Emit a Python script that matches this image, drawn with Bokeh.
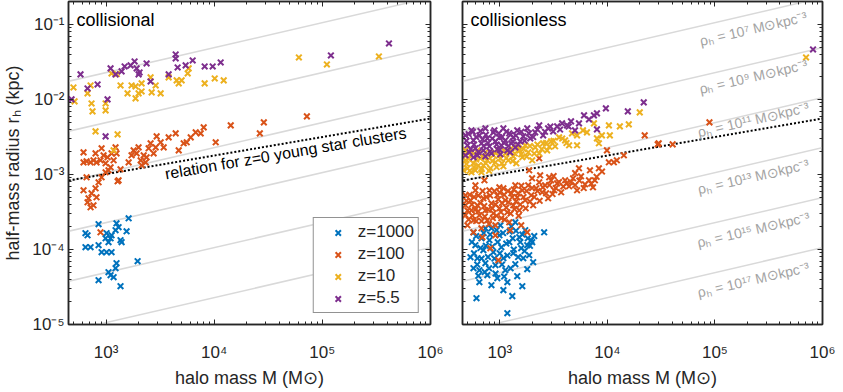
import math
from bokeh.plotting import figure
from bokeh.models import (LogAxis, FixedTicker, Legend, LegendItem, Range1d,
                          CustomJSTickFormatter)
from bokeh.layouts import row
from bokeh.core.properties import value
from bokeh.embed import file_html
from bokeh.resources import INLINE

FONT = "Liberation Sans"
INK = "#262626"

series_names = ["z=1000", "z=100", "z=10", "z=5.5"]
series_colors = ["#0072BD", "#D95319", "#EDB120", "#7E2F8E"]

# ---------------- data: (log10 M [Msun], log10 r_h [kpc]) ----------------
collisional_z1000 = [
    (2.81, -3.783), (2.829, -3.81), (2.931, -3.663), (2.81, -3.969), (2.857, -3.969),
    (2.931, -3.943), (2.959, -4.036), (3.005, -4.036), (3.051, -4.036), (3.005, -3.783),
    (3.042, -3.85), (3.051, -3.81), (3.088, -3.743), (3.097, -3.65), (3.116, -3.703),
    (3.134, -3.876), (3.144, -3.903), (3.19, -3.757), (3.209, -3.584), (3.097, -4.183),
    (3.088, -4.249), (3.023, -4.303), (3.042, -4.343), (3.07, -4.369), (2.931, -4.409),
    (3.134, -4.489), (3.292, -4.156), (2.996, -3.85), (3.023, -3.903)]
collisional_z100 = [
    (2.792, -2.838), (2.82, -2.824), (2.857, -2.838), (2.884, -2.811), (2.912, -2.838),
    (2.949, -2.811), (2.959, -2.651), (2.977, -2.744), (2.996, -2.851), (3.014, -2.771),
    (3.042, -2.904), (3.051, -2.718), (3.07, -2.811), (3.023, -2.944), (3.088, -2.638),
    (3.097, -2.718), (3.134, -2.931), (3.107, -3.091), (3.209, -2.838), (3.236, -2.744),
    (3.255, -2.678), (3.283, -2.718), (3.301, -2.638), (3.32, -2.811), (3.329, -2.877),
    (3.348, -2.744), (3.375, -2.771), (3.366, -2.838), (3.394, -2.651), (3.412, -2.584),
    (3.44, -2.718), (3.459, -2.638), (3.468, -2.491), (3.505, -2.571), (3.533, -2.638),
    (3.579, -2.505), (3.644, -2.451), (3.672, -2.678), (3.718, -2.584), (3.746, -2.571),
    (3.783, -2.505), (3.829, -2.438), (3.875, -2.451), (3.903, -2.371), (4.014, -2.571),
    (4.153, -2.345), (2.82, -3.037), (2.792, -3.211), (2.838, -3.317), (2.866, -3.251),
    (2.903, -3.184), (2.912, -3.304), (2.931, -3.104), (2.959, -3.037), (2.996, -2.971),
    (2.884, -3.41), (2.857, -3.437), (2.829, -3.37), (3.116, -3.077), (2.949, -3.77),
    (4.459, -2.305), (4.422, -2.451), (4.857, -2.225), (2.792, -2.705), (2.903, -2.718)]
collisional_z10 = [
    (2.699, -1.839), (2.709, -2.025), (2.829, -1.918), (2.857, -1.812), (2.866, -2.052),
    (2.875, -2.158), (2.996, -2.052), (2.996, -2.145), (3.051, -1.652), (3.134, -1.812),
    (3.199, -1.918), (3.236, -1.812), (3.273, -1.825), (3.301, -1.918), (3.329, -1.892),
    (3.329, -1.785), (3.273, -1.985), (3.412, -1.705), (3.422, -1.905), (3.459, -1.812),
    (3.505, -1.918), (3.579, -1.705), (3.653, -1.745), (3.672, -1.785), (3.699, -1.745),
    (3.755, -1.652), (3.764, -1.585), (3.912, -1.785), (4.005, -1.719), (4.088, -1.745),
    (2.903, -2.425), (3.107, -2.465), (3.07, -2.678), (4.783, -1.439), (5.042, -1.532),
    (5.523, -1.426), (3.10, -1.66)]
collisional_z5p5 = [
    (2.681, -1.998), (2.764, -1.665), (2.829, -1.852), (2.922, -1.799), (3.014, -1.998),
    (3.042, -1.585), (3.088, -1.665), (3.144, -1.625), (3.172, -1.559), (3.227, -1.545),
    (3.264, -1.492), (3.283, -1.585), (3.31, -1.639), (3.301, -1.665), (3.375, -1.519),
    (3.412, -1.759), (3.579, -1.665), (3.644, -1.399), (3.644, -1.452), (3.662, -1.572),
    (3.736, -1.545), (3.801, -1.479), (3.912, -1.559), (3.986, -1.559), (4.06, -1.506),
    (2.996, -2.491), (5.079, -1.412), (5.616, -1.252)]

collisionless_z1000 = [
    (2.755, -3.77), (2.773, -3.943), (2.792, -4.116), (2.81, -4.276), (2.829, -3.85),
    (2.847, -4.009), (2.866, -4.183), (2.884, -4.342), (2.903, -3.876), (2.922, -3.717),
    (2.94, -4.036), (2.959, -4.209), (2.977, -4.382), (2.996, -3.81), (3.014, -3.969),
    (3.033, -4.116), (3.051, -4.276), (3.07, -4.436), (3.088, -3.903), (3.107, -3.69),
    (3.125, -4.049), (3.144, -4.196), (3.162, -4.356), (3.181, -3.836), (3.199, -3.983),
    (3.218, -4.116), (3.236, -3.743), (3.255, -3.943), (3.273, -4.076), (3.292, -3.876),
    (3.31, -4.169), (2.81, -4.436), (2.922, -4.476), (3.033, -4.542), (3.412, -3.77),
    (2.783, -4.649), (3.07, -4.849), (3.116, -4.622), (3.209, -4.489), (3.301, -3.903),
    (3.255, -4.263), (3.005, -3.677), (3.144, -3.637), (2.866, -3.717), (2.727, -4.103),
    (2.755, -4.249),
    (2.74, -3.90), (2.76, -4.05), (2.78, -3.82), (2.79, -4.20), (2.80, -4.35),
    (2.82, -3.98), (2.83, -4.12), (2.85, -3.78), (2.86, -4.30), (2.87, -3.95),
    (2.89, -4.10), (2.90, -4.25), (2.91, -3.80), (2.93, -3.96), (2.95, -4.12),
    (2.96, -4.32), (2.97, -3.74), (2.98, -3.90), (3.00, -4.05), (3.02, -4.20),
    (3.03, -3.78), (3.04, -4.36), (3.06, -3.92), (3.07, -4.08), (3.09, -3.76),
    (3.10, -4.25), (3.12, -3.85), (3.13, -4.00), (3.15, -3.75), (3.17, -4.10),
    (3.19, -3.90), (3.21, -3.80), (3.23, -4.02), (3.26, -3.85), (3.28, -3.95),
    (3.32, -3.82)]
collisionless_z100 = [
    (2.681, -3.277), (2.681, -3.41), (2.681, -3.543), (2.699, -3.677), (2.727, -3.344),
    (2.736, -3.477), (2.755, -3.61), (2.773, -3.211), (2.792, -3.41), (2.81, -3.543),
    (2.829, -3.717), (2.847, -3.317), (2.866, -3.477), (2.884, -3.61), (2.903, -3.211),
    (2.922, -3.384), (2.94, -3.517), (2.959, -3.677), (2.977, -3.277), (2.996, -3.45),
    (3.014, -3.583), (3.033, -3.184), (3.051, -3.344), (3.07, -3.504), (3.088, -3.637),
    (3.107, -3.251), (3.125, -3.41), (3.144, -3.144), (3.162, -3.304), (3.181, -3.477),
    (3.209, -3.211), (3.236, -3.344), (3.264, -3.144), (3.292, -3.277), (3.31, -3.41),
    (3.338, -3.184), (3.366, -3.104), (3.394, -3.237), (3.421, -3.144), (3.449, -3.317),
    (3.477, -3.077), (3.505, -3.211), (3.533, -3.117), (3.57, -3.237), (3.607, -3.077),
    (3.644, -3.157), (3.681, -3.051), (3.718, -3.211), (3.755, -3.024), (3.792, -3.131),
    (3.829, -3.077), (3.866, -3.171), (3.366, -2.784), (3.273, -2.944), (3.736, -2.917),
    (3.838, -2.944), (3.921, -2.917), (4.014, -2.837), (4.06, -2.837), (4.088, -2.811),
    (4.153, -2.744), (3.996, -2.678), (4.347, -2.478), (4.477, -2.584), (3.884, -3.077),
    (3.375, -3.011), (3.459, -3.037), (2.857, -3.077), (2.773, -3.144), (2.996, -3.171),
    (4.949, -2.305), (4.468, -2.598), (4.607, -2.598), (3.255, -3.77), (2.912, -3.983),
    (2.986, -4.143), (2.838, -3.836), (2.755, -3.77), (2.959, -3.81), (3.097, -3.743),
    (3.199, -3.677),
    (2.69, -3.35), (2.70, -3.48), (2.71, -3.60), (2.72, -3.27), (2.74, -3.40),
    (2.745, -3.55), (2.76, -3.30), (2.77, -3.47), (2.78, -3.62), (2.80, -3.28),
    (2.80, -3.49), (2.82, -3.38), (2.83, -3.62), (2.84, -3.22), (2.855, -3.42),
    (2.86, -3.56), (2.875, -3.30), (2.89, -3.47), (2.90, -3.66), (2.91, -3.28),
    (2.93, -3.45), (2.935, -3.58), (2.95, -3.22), (2.96, -3.40), (2.97, -3.55),
    (2.985, -3.33), (3.00, -3.24), (3.01, -3.50), (3.02, -3.38), (3.04, -3.27),
    (3.045, -3.60), (3.06, -3.44), (3.075, -3.22), (3.08, -3.37), (3.10, -3.52),
    (3.115, -3.30), (3.13, -3.20), (3.135, -3.46), (3.15, -3.36), (3.17, -3.25),
    (3.175, -3.55), (3.19, -3.40), (3.20, -3.15), (3.22, -3.30), (3.24, -3.45),
    (3.25, -3.22), (3.28, -3.36), (3.30, -3.18), (3.32, -3.30), (3.35, -3.22),
    (3.37, -3.35), (3.40, -3.17), (3.43, -3.25), (3.46, -3.14), (3.49, -3.26),
    (3.52, -3.18), (3.55, -3.10), (3.59, -3.16), (3.62, -3.12), (3.66, -3.10),
    (3.70, -3.14), (3.74, -3.08), (3.78, -3.18), (3.85, -3.12), (3.90, -3.03),
    (3.95, -2.96), (3.70, -2.98), (3.50, -3.02), (3.30, -3.05)]
collisionless_z10 = [
    (2.681, -2.678), (2.681, -2.811), (2.699, -2.917), (2.727, -2.744), (2.755, -2.851),
    (2.773, -2.944), (2.792, -2.678), (2.82, -2.784), (2.847, -2.877), (2.866, -2.704),
    (2.884, -2.811), (2.912, -2.917), (2.94, -2.744), (2.959, -2.837), (2.986, -2.678),
    (3.005, -2.784), (3.033, -2.891), (3.051, -2.718), (3.079, -2.811), (3.107, -2.651),
    (3.125, -2.758), (3.153, -2.851), (3.181, -2.678), (3.209, -2.771), (3.236, -2.611),
    (3.264, -2.704), (3.301, -2.811), (3.329, -2.638), (3.366, -2.718), (3.403, -2.584),
    (3.44, -2.678), (3.477, -2.558), (3.514, -2.624), (3.551, -2.505), (3.607, -2.545),
    (3.644, -2.611), (3.671, -2.451), (3.718, -2.478), (3.718, -2.611), (3.773, -2.411),
    (3.81, -2.438), (3.875, -2.318), (3.903, -2.518), (3.921, -2.584), (3.949, -2.478),
    (4.014, -2.345), (4.023, -2.478), (4.116, -2.358), (4.199, -2.331), (4.301, -2.171),
    (5.847, -1.439), (2.662, -2.944), (2.736, -2.971), (2.829, -2.971),
    (2.67, -2.74), (2.69, -2.86), (2.71, -2.79), (2.72, -2.95), (2.74, -2.70),
    (2.76, -2.90), (2.78, -2.80), (2.80, -2.88), (2.81, -2.72), (2.83, -2.93),
    (2.85, -2.77), (2.87, -2.85), (2.89, -2.74), (2.90, -2.95), (2.93, -2.82),
    (2.95, -2.70), (2.97, -2.90), (2.99, -2.75), (3.02, -2.85), (3.04, -2.68),
    (3.06, -2.78), (3.09, -2.70), (3.12, -2.82), (3.14, -2.72), (3.17, -2.64),
    (3.20, -2.73), (3.22, -2.66), (3.25, -2.76), (3.28, -2.62), (3.32, -2.72),
    (3.35, -2.60), (3.39, -2.66), (3.43, -2.58), (3.46, -2.63), (3.50, -2.55),
    (3.58, -2.52), (3.62, -2.58)]
collisionless_z5p5 = [
    (2.681, -2.478), (2.699, -2.611), (2.718, -2.704), (2.736, -2.411), (2.755, -2.545),
    (2.773, -2.651), (2.792, -2.744), (2.81, -2.478), (2.829, -2.584), (2.847, -2.678),
    (2.866, -2.385), (2.884, -2.518), (2.903, -2.624), (2.922, -2.718), (2.94, -2.438),
    (2.959, -2.558), (2.977, -2.664), (2.996, -2.505), (3.014, -2.611), (3.033, -2.385),
    (3.051, -2.545), (3.07, -2.678), (3.088, -2.451), (3.107, -2.584), (3.125, -2.505),
    (3.144, -2.638), (3.162, -2.411), (3.19, -2.558), (3.218, -2.491), (3.255, -2.385),
    (3.283, -2.518), (3.329, -2.438), (3.366, -2.345), (3.403, -2.478), (3.449, -2.385),
    (3.496, -2.425), (3.533, -2.358), (3.579, -2.318), (3.625, -2.345), (3.662, -2.291),
    (3.699, -2.411), (3.736, -2.318), (3.783, -2.211), (3.829, -2.265), (3.875, -2.211),
    (3.903, -2.185), (3.903, -2.398), (3.986, -2.118), (4.19, -2.158), (4.338, -2.038),
    (5.912, -1.332), (2.681, -2.744), (2.755, -2.771), (2.866, -2.758), (3.005, -2.731),
    (3.097, -2.704),
    (2.69, -2.55), (2.71, -2.46), (2.73, -2.66), (2.75, -2.43), (2.76, -2.60),
    (2.78, -2.50), (2.80, -2.70), (2.82, -2.42), (2.84, -2.53), (2.85, -2.62),
    (2.87, -2.47), (2.89, -2.58), (2.91, -2.69), (2.93, -2.52), (2.95, -2.41),
    (2.97, -2.60), (2.99, -2.45), (3.00, -2.67), (3.02, -2.50), (3.04, -2.58),
    (3.06, -2.43), (3.08, -2.62), (3.10, -2.47), (3.12, -2.56), (3.15, -2.48),
    (3.17, -2.60), (3.20, -2.43), (3.23, -2.55), (3.27, -2.45), (3.31, -2.50),
    (3.35, -2.40), (3.42, -2.43), (3.47, -2.36), (3.56, -2.40), (3.64, -2.36)]

x_major = [1e3, 1e4, 1e5, 1e6]
x_major_labels = ["10³", "10⁴", "10⁵", "10⁶"]
y_major = [1e-5, 1e-4, 1e-3, 1e-2, 1e-1]
y_major_labels = ["10⁻⁵", "10⁻⁴", "10⁻³", "10⁻²", "10⁻¹"]

rho_levels = [1e7, 1e9, 1e11, 1e13, 1e15, 1e17]
rho_labels = ["ρₕ = 10⁷ M⊙kpc⁻³", "ρₕ = 10⁹ M⊙kpc⁻³", "ρₕ = 10¹¹ M⊙kpc⁻³",
              "ρₕ = 10¹³ M⊙kpc⁻³", "ρₕ = 10¹⁵ M⊙kpc⁻³", "ρₕ = 10¹⁷ M⊙kpc⁻³"]

# young star cluster relation  log r = A + s (log M - 6)
ysc_slope = 0.247
ysc_logr_at_1e6 = -2.253

X_RANGE = (10 ** 2.653, 1e6)
Y_RANGE = (1e-5, 10 ** -0.693)
FRAME_H = 323


def r_half(M, rho):
    return (3.0 * M / (8.0 * math.pi * rho)) ** (1.0 / 3.0)


def label_formatter(tick_values, tick_labels):
    return CustomJSTickFormatter(args=dict(tv=tick_values, tl=tick_labels), code="""
        for (let i = 0; i < tv.length; i++) {
            if (Math.abs(Math.log10(tv[i]) - Math.log10(tick)) < 1e-6) return tl[i];
        }
        return "";
    """)


def minor_list(lo, hi):
    out = []
    for d in range(lo, hi):
        for k in range(2, 10):
            out.append(k * 10.0 ** d)
    return out


x_minor = minor_list(2, 6)
y_minor = minor_list(-6, 0)


def style_axis(ax, ticks, minor, show_labels, labels=None):
    ax.ticker = FixedTicker(ticks=ticks, minor_ticks=minor)
    ax.major_tick_in = 5
    ax.major_tick_out = 0
    ax.minor_tick_in = 3
    ax.minor_tick_out = 0
    ax.axis_line_color = INK
    ax.axis_line_width = 1.5
    ax.major_tick_line_color = INK
    ax.minor_tick_line_color = INK
    ax.major_tick_line_width = 1
    ax.minor_tick_line_width = 1
    if show_labels:
        ax.formatter = label_formatter(ticks, labels)
        ax.major_label_text_font = FONT
        ax.major_label_text_font_size = "17px"
        ax.major_label_text_color = INK
    else:
        ax.formatter = CustomJSTickFormatter(code="return '';")
        ax.major_label_text_font_size = "0px"
        ax.major_label_standoff = 0


def make_panel(title, datasets, left_border, frame_w, show_ylabels):
    p = figure(x_axis_type="log", y_axis_type="log",
               x_range=Range1d(*X_RANGE), y_range=Range1d(*Y_RANGE),
               frame_width=frame_w, frame_height=FRAME_H,
               min_border_left=left_border, min_border_right=16,
               min_border_top=1, min_border_bottom=66,
               output_backend="svg", toolbar_location=None)
    p.xgrid.visible = False
    p.ygrid.visible = False
    p.outline_line_color = INK
    p.outline_line_width = 1.5
    p.background_fill_color = "white"
    p.border_fill_color = "white"

    xa = p.xaxis[0]
    style_axis(xa, x_major, x_minor, True, x_major_labels)
    xa.major_label_standoff = 18
    xa.axis_label = "halo mass M (M⊙)"
    xa.axis_label_text_font = FONT
    xa.axis_label_text_font_size = "18px"
    xa.axis_label_text_font_style = "normal"
    xa.axis_label_text_color = INK
    xa.axis_label_standoff = 3

    ya = p.yaxis[0]
    style_axis(ya, y_major, y_minor, show_ylabels, y_major_labels)
    if show_ylabels:
        ya.major_label_standoff = 4
        ya.axis_label = "half-mass radius rₕ (kpc)"
        ya.axis_label_text_font = FONT
        ya.axis_label_text_font_size = "18px"
        ya.axis_label_text_font_style = "normal"
        ya.axis_label_text_color = INK
        ya.axis_label_standoff = 6

    top = LogAxis()
    style_axis(top, x_major, x_minor, False)
    p.add_layout(top, "above")
    right = LogAxis()
    style_axis(right, y_major, y_minor, False)
    p.add_layout(right, "right")

    # constant half-mass density lines
    mline = [10 ** 2.4, 10 ** 6.3]
    for rho in rho_levels:
        p.line(mline, [r_half(m, rho) for m in mline], line_color="#d9d9d9", line_width=1.5)

    # z=0 young star cluster relation
    p.line(mline, [10 ** (ysc_logr_at_1e6 + ysc_slope * (math.log10(m) - 6)) for m in mline],
           line_color="black", line_width=2, line_dash="2 2")

    renderers = []
    for data, c in zip(datasets, series_colors):
        xs = [10 ** a for a, b in data]
        ys = [10 ** b for a, b in data]
        r = p.scatter(xs, ys, marker="x", size=8, line_width=2, line_color=c)
        renderers.append(r)

    p.text(x=[10 ** 2.727], y=[10 ** -0.946], text=[title], text_align="left",
           text_baseline="middle", text_font=value(FONT), text_font_size="18px",
           text_color="black")
    return p, renderers


p1, rends1 = make_panel("collisional",
                        [collisional_z1000, collisional_z100, collisional_z10, collisional_z5p5],
                        65, 362, True)
p2, rends2 = make_panel("collisionless",
                        [collisionless_z1000, collisionless_z100, collisionless_z10, collisionless_z5p5],
                        16, 360, False)

# relation label (left panel)
px_per_dec_x = 362 / (6 - 2.653)
px_per_dec_y = FRAME_H / (-0.693 + 5)
ang_ysc = math.atan(ysc_slope * px_per_dec_y / px_per_dec_x)
m_lab = 10 ** 4.662
p1.text(x=[m_lab], y=[10 ** (ysc_logr_at_1e6 + ysc_slope * (math.log10(m_lab) - 6))],
        text=["relation for z=0 young star clusters"], angle=ang_ysc,
        text_align="center", text_baseline="middle", y_offset=10,
        text_font=value(FONT), text_font_size="16px", text_color="black")

# density labels (right panel)
ang_rho = math.atan((1 / 3) * px_per_dec_y / px_per_dec_x)
m_rho = 10 ** 5.366
p2.text(x=[m_rho] * len(rho_levels), y=[r_half(m_rho, rho) for rho in rho_levels],
        text=rho_labels, angle=ang_rho, text_align="center", text_baseline="middle",
        y_offset=[15, 13, 6, 13, 16, 16], text_font=value(FONT), text_font_size="14px",
        text_color="#a3a3a3")

legend = Legend(items=[LegendItem(label=n, renderers=[r]) for n, r in zip(series_names, rends1)],
                location="bottom_right")
legend.margin = 11
legend.padding = 4
legend.spacing = 2
legend.glyph_width = 40
legend.glyph_height = 19
legend.label_height = 19
legend.label_standoff = -6
legend.label_text_font = FONT
legend.label_text_font_size = "17px"
legend.label_text_color = INK
legend.border_line_color = INK
legend.border_line_width = 1.5
legend.background_fill_color = "white"
legend.background_fill_alpha = 1
p1.add_layout(legend)

layout = row(p1, p2)
open("out.html", "w").write(file_html(layout, INLINE))
